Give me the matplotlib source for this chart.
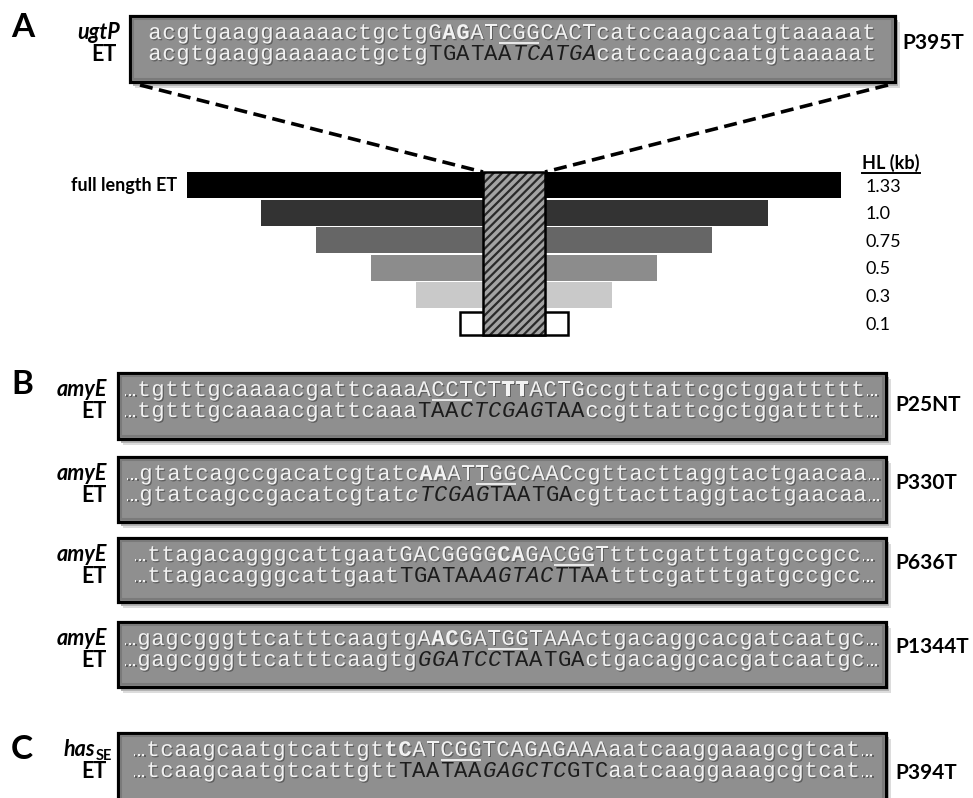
import matplotlib
matplotlib.use("Agg")
import matplotlib.pyplot as plt
from matplotlib.patches import Rectangle
import matplotlib.patheffects as pe

# ---------------- data ----------------
# sequence rows: list of (segment, style); styles: w=white, wb=white bold,
# wu=white underlined, wi=white italic, k=dark, ki=dark italic
seq_a_wt = [("acgtgaaggaaaaactgctg", "w"), ("G", "w"), ("AG", "wb"), ("AT", "w"),
            ("CGG", "wu"), ("CACT", "w"), ("catccaagcaatgtaaaaat", "w")]
seq_a_et = [("acgtgaaggaaaaactgctg", "w"), ("TGATAA", "k"), ("TCATGA", "ki"),
            ("catccaagcaatgtaaaaat", "w")]

seq_b1_wt = [("…tgtttgcaaaacgattcaaa", "w"), ("A", "w"), ("CCT", "wu"), ("CT", "w"),
             ("TT", "wb"), ("ACTG", "w"), ("ccgttattcgctggattttt…", "w")]
seq_b1_et = [("…tgtttgcaaaacgattcaaa", "w"), ("TAA", "k"), ("CTCGAG", "ki"), ("TAA", "k"),
             ("ccgttattcgctggattttt…", "w")]

seq_b2_wt = [("…gtatcagccgacatcgtatc", "w"), ("AA", "wb"), ("AT", "w"), ("TGG", "wu"),
             ("CAAC", "w"), ("cgttacttaggtactgaacaa…", "w")]
seq_b2_et = [("…gtatcagccgacatcgtat", "w"), ("c", "wi"), ("TCGAG", "ki"), ("TAATGA", "k"),
             ("cgttacttaggtactgaacaa…", "w")]

seq_b3_wt = [("…ttagacagggcattgaat", "w"), ("GACGGGG", "w"), ("CA", "wb"), ("GA", "w"),
             ("CGG", "wu"), ("T", "w"), ("tttcgatttgatgccgcc…", "w")]
seq_b3_et = [("…ttagacagggcattgaat", "w"), ("TGATAA", "k"), ("AGTACT", "ki"), ("TAA", "k"),
             ("tttcgatttgatgccgcc…", "w")]

seq_b4_wt = [("…gagcgggttcatttcaagtg", "w"), ("A", "w"), ("AC", "wb"), ("GA", "w"),
             ("TGG", "wu"), ("TAAA", "w"), ("ctgacaggcacgatcaatgc…", "w")]
seq_b4_et = [("…gagcgggttcatttcaagtg", "w"), ("GGATCC", "ki"), ("TAATGA", "k"),
             ("ctgacaggcacgatcaatgc…", "w")]

seq_c_wt = [("…tcaagcaatgtcattgt", "w"), ("tC", "wb"), ("AT", "w"), ("CGG", "wu"),
            ("TCAGAGAAA", "w"), ("aatcaaggaaagcgtcat…", "w")]
seq_c_et = [("…tcaagcaatgtcattgtt", "w"), ("TAATAA", "k"), ("GAGCTC", "ki"), ("GTC", "k"),
            ("aatcaaggaaagcgtcat…", "w")]

gene_labels = ["ugtP", "amyE", "amyE", "amyE", "amyE", "has"]
mutation_labels = ["P395T", "P25NT", "P330T", "P636T", "P1344T", "P394T"]

hl_values = [1.33, 1.0, 0.75, 0.5, 0.3, 0.1]
hl_labels = ["1.33", "1.0", "0.75", "0.5", "0.3", "0.1"]

# ---------------- layout ----------------
W, H = 973, 798
fig = plt.figure(figsize=(W / 100, H / 100), dpi=100)
ax = fig.add_axes([0, 0, 1, 1])
ax.set_xlim(0, W)
ax.set_ylim(H, 0)
ax.axis("off")

SANS = ["Lato", "DejaVu Sans"]
MONO = ["Liberation Mono", "DejaVu Sans Mono"]
CW = 14.0          # px per character
SEQ_FS = 16.0
LAB_FS = 15.5
WHITE = "#f2f2f2"
DARK = "#1c1c1c"
BOXFILL = "#8f8f8f"

shadow_fx = [pe.withSimplePatchShadow(offset=(0.9, -0.9), shadow_rgbFace="#2e2e2e", alpha=0.5)]


def draw_box(left, top, right, bottom):
    ax.add_patch(Rectangle((left + 5, top + 6), right - left, bottom - top,
                           facecolor="#dcdcdc", edgecolor="none", zorder=1))
    ax.add_patch(Rectangle((left + 3, top + 4), right - left, bottom - top,
                           facecolor="#b4b4b4", edgecolor="none", zorder=1.2))
    ax.add_patch(Rectangle((left, top), right - left, bottom - top,
                           facecolor=BOXFILL, edgecolor="black", lw=2.3, zorder=2))
    ax.add_patch(Rectangle((left + 3, top + 3), right - left - 6, bottom - top - 6,
                           facecolor="none", edgecolor="#7a7a7a", lw=1.5, zorder=2.1))


def draw_row(segments, x0, baseline):
    i = 0
    for seg, st in segments:
        start = i
        color = DARK if st.startswith("k") else WHITE
        weight = "bold" if "b" in st else "normal"
        fstyle = "italic" if "i" in st else "normal"
        for ch in seg:
            cx = x0 + (i + 0.5) * CW
            t = ax.text(cx, baseline, ch, family=MONO, fontsize=SEQ_FS, color=color,
                        fontweight=weight, fontstyle=fstyle, ha="center", va="baseline",
                        zorder=5)
            if color == WHITE:
                t.set_path_effects(shadow_fx)
            i += 1
        if "u" in st:
            ax.plot([x0 + start * CW + 1, x0 + i * CW - 1], [baseline + 3.5] * 2,
                    color=WHITE, lw=1.3, zorder=5, solid_capstyle="butt")


panels = [
    # left, top, right, bottom, text_x0, label_right, plabel_x, plabel_y
    dict(l=130, t=16, r=895, b=82, x0=148, lr=117, px=902, py=43),
    dict(l=118, t=373, r=886, b=439, x0=123, lr=107, px=895, py=405),
    dict(l=118, t=457, r=886, b=522, x0=125, lr=107, px=895, py=483),
    dict(l=118, t=538, r=886, b=602, x0=133, lr=107, px=895, py=563),
    dict(l=118, t=622, r=886, b=687, x0=123, lr=107, px=895, py=647),
    dict(l=118, t=733, r=886, b=812, x0=132, lr=107, px=895, py=773),
]
rows = [(seq_a_wt, seq_a_et), (seq_b1_wt, seq_b1_et), (seq_b2_wt, seq_b2_et),
        (seq_b3_wt, seq_b3_et), (seq_b4_wt, seq_b4_et), (seq_c_wt, seq_c_et)]

renderer = fig.canvas.get_renderer()
inv = ax.transData.inverted()

for k, (p, (wt, et)) in enumerate(zip(panels, rows)):
    draw_box(p["l"], p["t"], p["r"], p["b"])
    b1 = p["t"] + 23
    b2 = p["t"] + 44
    draw_row(wt, p["x0"], b1)
    draw_row(et, p["x0"], b2)
    if gene_labels[k] == "has":
        tse = ax.text(p["lr"] + 5, b1 + 4, "SE", family=SANS, fontsize=10.5,
                      fontweight="bold", ha="right", va="baseline", zorder=6)
        bb = tse.get_window_extent(renderer)
        xl = inv.transform((bb.x0, bb.y0))[0]
        ax.text(xl, b1, "has", family=SANS, fontsize=LAB_FS, fontweight="bold",
                fontstyle="italic", ha="right", va="baseline", zorder=6)
    else:
        ax.text(p["lr"] + (3 if k == 0 else 0), b1, gene_labels[k], family=SANS,
                fontsize=LAB_FS, fontweight="bold", fontstyle="italic",
                ha="right", va="baseline", zorder=6)
    ax.text(p["lr"], b2 + 1, "ET", family=SANS, fontsize=LAB_FS, fontweight="bold",
            ha="right", va="baseline", zorder=6)
    ax.text(p["px"], p["py"], mutation_labels[k], family=SANS, fontsize=15,
            fontweight="bold", ha="left", va="center", zorder=6)

# panel letters
for letter, y in [("A", 37), ("B", 394), ("C", 759)]:
    ax.text(11, y, letter, family=SANS, fontsize=24, fontweight="bold",
            ha="left", va="baseline")

# ---------------- truncation diagram ----------------
cx = 514
bar_top0 = 172
bar_h = 26
pitch = 27.6
px_per_kb = 443
base_px = 64
bar_colors = ["#000000", "#333333", "#666666", "#8c8c8c", "#c9c9c9", "#ffffff"]
ys = [bar_top0 + bar_h / 2 + i * pitch for i in range(len(hl_values))]
widths = [base_px + px_per_kb * v for v in hl_values]
for i, (y, w, c) in enumerate(zip(ys, widths, bar_colors)):
    last = i == len(hl_values) - 1
    ax.barh(y, w, height=bar_h if not last else 23, left=cx - w / 2, color=c,
            edgecolor="black" if last else "none", lw=1.8 if last else 0, zorder=3)

# hatched insertion block
plt.rcParams["hatch.linewidth"] = 1.6
hatch_rect = Rectangle((cx - 31, bar_top0), 62, ys[-1] + 11.5 - bar_top0,
                       facecolor="#a3a3a3", edgecolor="#2a2a2a", hatch="////",
                       lw=0, zorder=4)
ax.add_patch(hatch_rect)
ax.add_patch(Rectangle((cx - 31, bar_top0), 62, ys[-1] + 11.5 - bar_top0,
                       facecolor="none", edgecolor="black", lw=1.8, zorder=4.1))

# dashed zoom lines
ax.plot([140, cx - 31], [85, bar_top0], color="black", lw=2.6,
        ls=(0, (3.6, 1.8)), zorder=3)
ax.plot([888, cx + 31], [85, bar_top0], color="black", lw=2.6,
        ls=(0, (3.6, 1.8)), zorder=3)

ax.text(177, ys[0] + 1, "full length ET", family=SANS, fontsize=13,
        fontweight="bold", ha="right", va="center")

thl = ax.text(862, 163, "HL (kb)", family=SANS, fontsize=13, fontweight="bold",
              ha="left", va="center")
bb = thl.get_window_extent(renderer)
(x_a, y_a) = inv.transform((bb.x0, bb.y0))
(x_b, _) = inv.transform((bb.x1, bb.y0))
ax.plot([x_a, x_b], [y_a + 1, y_a + 1], color="black", lw=1.4)

for y, lab in zip(ys, hl_labels):
    ax.text(866, y + 1.5, lab, family=SANS, fontsize=13, ha="left", va="center")

fig.savefig("out.png", dpi=100)
